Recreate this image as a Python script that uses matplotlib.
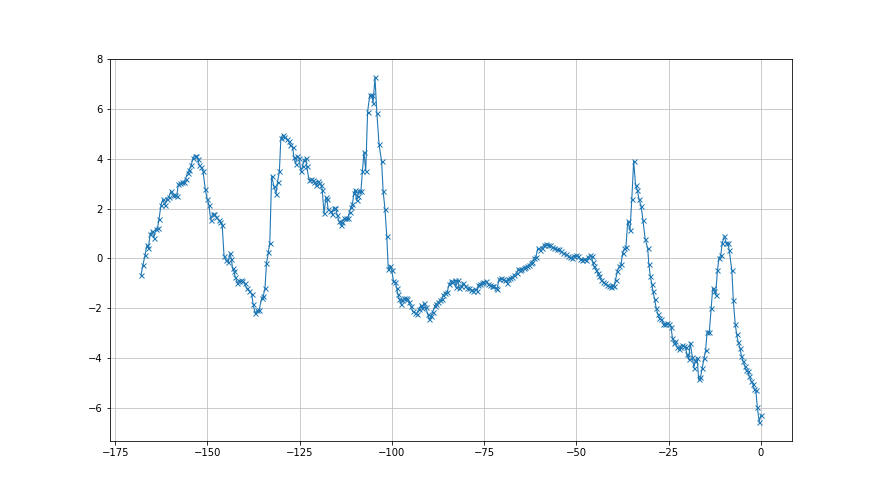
import numpy as np
import matplotlib
matplotlib.use('Agg')
from matplotlib import pyplot as plt

# ---------- Data (x position, value)
x = [
	-168.0, -167.5, -166.9, -166.4, -166.0, -165.5, -165.0, -164.5, -164.0, -163.5,
	-163.1, -162.6, -162.1, -161.5, -161.0, -160.4, -159.9, -159.4, -158.8, -158.3,
	-157.9, -157.3, -156.9, -156.4, -155.9, -155.4, -155.0, -154.4, -153.9, -153.5,
	-153.0, -152.6, -152.2, -151.7, -151.2, -150.6, -150.1, -149.6, -149.1, -148.6,
	-148.1, -147.6, -147.0, -146.5, -146.0,
	-145.5, -145.0, -144.4, -143.9, -143.5, -143.2, -142.8, -142.5, -141.9, -141.4,
	-140.9, -140.5, -139.9, -139.4, -138.7, -138.0, -137.6, -137.1, -136.5, -136.0,
	-135.3, -134.9, -134.4, -134.0, -133.5, -133.1, -132.6, -132.0, -131.4, -131.0,
	-130.5, -130.1, -129.6, -129.2, -128.5, -128.0, -127.5, -126.9, -126.6, -126.1,
	-125.7, -125.2, -124.7, -124.2, -123.8, -123.3,
	-123.1, -122.5, -122.0, -121.5, -121.1, -120.6, -120.1, -119.7, -119.2, -118.9,
	-118.4, -117.9, -117.6, -117.3, -116.7, -116.3, -115.8, -115.3, -114.8, -114.4,
	-113.9, -113.5, -112.9, -112.5, -112.0, -111.5, -111.1, -110.7, -110.3, -110.0,
	-109.6, -109.3, -108.9, -108.4, -108.0, -107.6, -107.1, -106.6, -106.0, -105.5,
	-105.1, -104.6, -104.1, -103.5, -102.8, -102.4, -101.9, -101.4, -101.0, -100.5,
	-100.1, -99.6, -99.1, -98.7, -98.4, -98.0, -97.6, -97.3, -96.7, -96.2,
	-95.8, -95.5, -94.9, -94.4, -93.8, -93.3, -92.8, -92.2, -91.8, -91.3,
	-90.9, -90.3, -89.9, -89.4, -89.0, -88.4, -88.0, -87.5, -87.0, -86.5,
	-86.1, -85.6, -85.0, -84.5, -84.0, -83.6, -83.0, -82.7, -82.2, -81.8,
	-81.2, -80.7, -80.1, -79.6, -79.0, -78.5, -78.0, -77.4, -76.9,
	-76.6, -76.2, -75.7, -75.2, -74.6, -74.1, -73.5, -73.0, -72.5, -71.9,
	-71.5, -71.0, -70.5, -69.9, -69.4, -68.8, -68.5, -67.9, -67.4, -66.9,
	-66.2, -65.8, -65.3, -64.9, -64.3, -64.0, -63.4, -62.9, -62.4, -62.0,
	-61.4, -61.0, -60.5, -59.9, -59.4, -58.9, -58.3, -57.8, -57.2, -56.6,
	-56.0, -55.4, -54.7, -54.2, -53.6, -52.8, -52.3, -51.8, -51.2, -50.7,
	-50.1, -49.6, -49.1, -48.5, -48.0, -47.4, -46.9, -46.3, -45.9, -45.6,
	-45.3, -44.7, -44.3, -43.8, -43.4, -42.9, -42.4, -41.8, -41.3, -40.7,
	-40.3, -39.8, -39.4, -38.9, -38.4, -37.9, -37.5, -37.0, -36.6, -36.1,
	-35.5, -35.0, -34.5, -34.0, -33.5, -33.1, -32.5, -32.0, -31.4,
	-30.7, -30.4, -30.0, -29.6, -29.3, -28.8, -28.4, -28.0, -27.6, -27.0,
	-26.5, -25.9, -25.5, -24.9, -24.4, -24.0, -23.7, -23.2, -22.8, -22.3,
	-21.9, -21.4, -20.9, -20.4, -20.1, -19.6, -19.2, -18.6, -18.2, -17.8,
	-17.3, -16.9, -16.4, -15.9, -15.4, -15.0, -14.6, -14.0, -13.5, -13.1,
	-12.7, -12.3, -11.8, -11.4, -10.9, -10.5, -9.9, -9.5, -9.0, -8.6,
	-7.9, -7.5, -7.0, -6.6, -6.2, -5.7, -5.3, -4.9, -4.4, -4.0,
	-3.6, -3.2, -2.7, -2.2, -1.8, -1.4, -1.0, -0.5, 0.0,
]

y = [
	-0.67, -0.28, 0.13, 0.55, 0.43, 0.99, 1.10, 0.83, 1.17, 1.22,
	1.60, 2.13, 2.37, 2.15, 2.40, 2.48, 2.71, 2.55, 2.53, 2.51,
	2.98, 3.02, 3.07, 3.08, 3.20, 3.44, 3.54, 3.74, 4.05, 4.12,
	4.12, 4.01, 3.74, 3.67, 3.51, 2.80, 2.40, 2.15, 1.55, 1.80,
	1.77, 1.65, 1.55, 1.45, 1.33,
	0.11, -0.07, -0.16, 0.20, -0.03, -0.39, -0.52, -0.73, -0.99, -0.89,
	-0.87, -0.89, -1.00, -1.20, -1.29, -1.43, -1.85, -2.19, -2.09, -2.09,
	-1.59, -1.53, -1.19, -0.20, 0.24, 0.64, 3.31, 2.91, 2.60, 3.08,
	3.51, 4.84, 4.97, 4.87, 4.81, 4.71, 4.57, 4.47, 4.09, 3.80,
	4.11, 4.04, 3.51, 3.71, 3.97, 4.02,
	3.70, 3.17, 3.19, 3.16, 3.07, 2.94, 3.12, 3.03, 2.94, 2.77,
	1.81, 2.46, 2.37, 1.97, 1.90, 1.80, 2.01, 2.01, 1.74, 1.50,
	1.34, 1.48, 1.61, 1.61, 1.61, 1.88, 2.06, 2.19, 2.63, 2.77,
	2.33, 2.50, 2.73, 2.73, 3.50, 4.27, 3.52, 5.89, 6.58, 6.58,
	6.26, 7.28, 5.86, 4.59, 3.90, 2.73, 1.99, 0.90, -0.43, -0.29,
	-0.45, -0.89, -0.96, -1.20, -1.43, -1.63, -1.83, -1.69, -1.60, -1.60,
	-1.63, -1.76, -1.92, -2.13, -2.19, -2.23, -2.05, -1.89, -2.00, -1.79,
	-1.96, -2.23, -2.45, -2.32, -2.16, -1.92, -1.83, -1.76, -1.69, -1.63,
	-1.47, -1.39, -1.33, -1.03, -0.89, -0.93, -0.85, -1.16, -0.85, -1.20,
	-1.12, -0.99, -1.12, -1.20, -1.20, -1.25, -1.29, -1.23, -1.29,
	-1.05, -1.02, -0.98, -0.94, -0.91, -1.02, -1.07, -1.11, -1.09, -1.18,
	-1.21, -0.84, -0.80, -0.84, -0.88, -0.98, -0.84, -0.78, -0.75, -0.67,
	-0.58, -0.42, -0.48, -0.42, -0.38, -0.35, -0.32, -0.27, -0.17, -0.13,
	0.03, 0.05, 0.40, 0.34, 0.43, 0.52, 0.59, 0.56, 0.54, 0.46,
	0.43, 0.36, 0.36, 0.29, 0.20, 0.17, 0.11, 0.04, 0.00, 0.11,
	0.13, 0.11, -0.03, -0.05, -0.03, -0.05, 0.04, 0.13, 0.08, -0.16,
	-0.32, -0.45, -0.59, -0.72, -0.85, -0.93, -1.00, -1.07, -1.12, -1.16,
	-1.07, -1.09, -0.85, -0.49, -0.32, -0.23, 0.21, 0.40, 0.44, 1.51,
	1.13, 2.40, 3.91, 2.97, 2.75, 2.40, 2.11, 1.55, 0.80,
	0.40, -0.21, -0.71, -1.02, -1.31, -1.65, -2.00, -2.22, -2.38, -2.45,
	-2.62, -2.65, -2.58, -2.65, -2.76, -3.19, -3.39, -3.32, -3.56, -3.65,
	-3.56, -3.48, -3.52, -3.56, -3.86, -4.06, -3.39, -3.96, -4.39, -4.12,
	-3.99, -4.86, -4.77, -4.39, -3.99, -3.69, -2.95, -2.95, -2.01, -1.20,
	-1.29, -1.47, -0.48, 0.00, 0.13, 0.63, 0.90, 0.63, 0.63, 0.32,
	-0.48, -1.69, -2.62, -3.05, -3.35, -3.61, -3.92, -4.12, -4.32, -4.50,
	-4.52, -4.72, -4.93, -5.06, -5.26, -5.30, -5.97, -6.56, -6.29,
]

# ---------- Plot
fig = plt.figure(figsize=(880 / 72, 495 / 72), dpi=72)
plt.plot(x, y, marker='x', linewidth=1.1, markersize=5)
plt.ylim(-7.32, 8.0)
plt.grid(True, color='#c0c0c0')
plt.savefig('out.png', dpi=72)
